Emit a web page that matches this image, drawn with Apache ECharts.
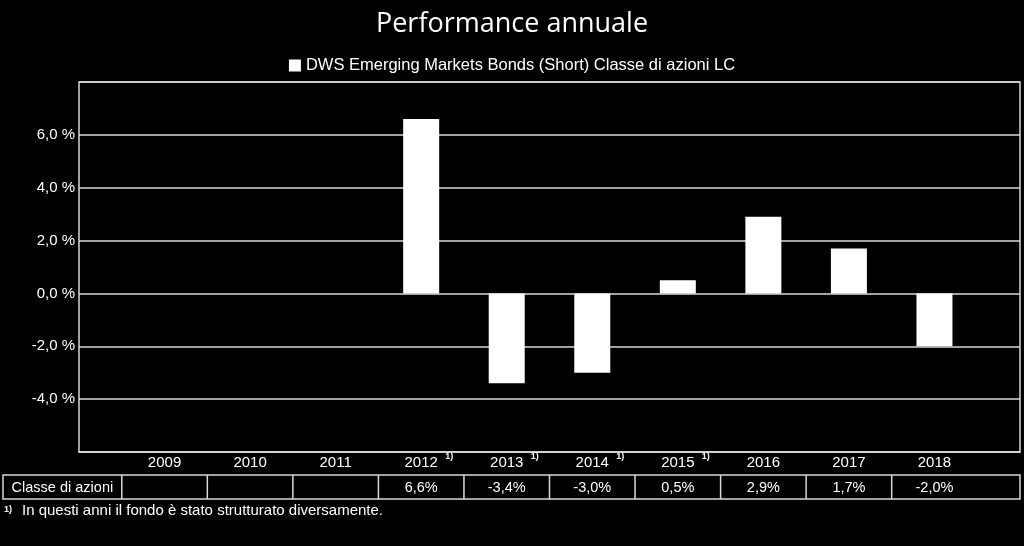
<!DOCTYPE html>
<html>
<head>
<meta charset="utf-8">
<script src="https://cdn.jsdelivr.net/npm/echarts@6/dist/echarts.min.js"></script>
<style>
html,body{margin:0;padding:0;background:#000;}
#chart{width:1024px;height:546px;}
</style>
</head>
<body>
<div id="chart"></div>
<script>
var years = ['2009','2010','2011','2012','2013','2014','2015','2016','2017','2018'];
var values = [null, null, null, 6.6, -3.4, -3.0, 0.5, 2.9, 1.7, -2.0];
var tableTexts = ['', '', '', '6,6%', '-3,4%', '-3,0%', '0,5%', '2,9%', '1,7%', '-2,0%'];
var footnoteYears = ['2012','2013','2014','2015'];
var seriesName = 'DWS Emerging Markets Bonds (Short) Classe di azioni LC';
var rowLabel = 'Classe di azioni';
var footnoteText = 'In questi anni il fondo è stato strutturato diversamente.';
var yTicks = {min: -6, max: 8, interval: 2, labelMin: -4, labelMax: 6};

var cats = [''].concat(years, ['']);
var vals = [null].concat(values, [null]);

var FONT = '"Liberation Sans", Arial, sans-serif';
var chart = echarts.init(document.getElementById('chart'), null, {renderer: 'canvas'});

var option = {
  backgroundColor: '#000',
  animation: false,
  title: {
    text: 'Performance annuale',
    left: 'center',
    top: 6,
    textStyle: {color: '#fff', fontSize: 27, fontWeight: 'normal', fontFamily: '"Open Sans", sans-serif'}
  },
  legend: {
    top: 52,
    left: 'center',
    itemWidth: 12,
    itemHeight: 12,
    itemGap: 5,
    icon: 'rect',
    textStyle: {color: '#fff', fontSize: 16.5, fontFamily: FONT},
    data: [seriesName]
  },
  grid: {
    left: 79, right: 4, top: 82, bottom: 94,
    show: true, borderColor: '#d8d8d8', borderWidth: 1.5, backgroundColor: 'transparent'
  },
  xAxis: {
    type: 'category',
    data: cats,
    boundaryGap: false,
    axisLine: {show: true, onZero: false, lineStyle: {color: '#d8d8d8', width: 1.5}},
    axisTick: {show: false},
    splitLine: {show: false},
    axisLabel: {color: '#fff', fontSize: 15, fontFamily: FONT, margin: 3, interval: 0}
  },
  yAxis: {
    type: 'value',
    min: yTicks.min, max: yTicks.max, interval: yTicks.interval,
    axisLine: {show: false},
    axisTick: {show: false},
    splitLine: {show: true, lineStyle: {color: '#d8d8d8', width: 1.5}},
    axisLabel: {
      color: '#fff', fontSize: 15, fontFamily: FONT, margin: 4,
      formatter: function (v) {
        if (v < yTicks.labelMin || v > yTicks.labelMax) return '';
        return v.toFixed(1).replace('.', ',') + ' %';
      }
    }
  },
  series: [{
    name: seriesName,
    type: 'bar',
    data: vals,
    barWidth: 36,
    itemStyle: {color: '#fff'}
  }]
};
chart.setOption(option);

function buildTable() {
  var g = [];
  var lineColor = '#d8d8d8';
  var top = 475, bottom = 499, mid = (top + bottom) / 2 + 1;
  var centers = years.map(function (y) { return chart.convertToPixel({xAxisIndex: 0}, y); });
  var half = (centers[1] - centers[0]) / 2;
  var left = 3;
  var right = chart.convertToPixel({xAxisIndex: 0}, cats.length - 1);
  g.push({type: 'rect', shape: {x: left, y: top, width: right - left, height: bottom - top},
    style: {fill: 'none', stroke: lineColor, lineWidth: 1.5}});
  var seps = [centers[0] - half];
  centers.forEach(function (c) { seps.push(c + half); });
  seps.slice(0, seps.length - 1).forEach(function (x) {
    g.push({type: 'line', shape: {x1: x, y1: top, x2: x, y2: bottom}, style: {stroke: lineColor, lineWidth: 1.5}});
  });
  g.push({type: 'text', x: (left + seps[0]) / 2, y: mid,
    style: {text: rowLabel, fill: '#fff', font: '14.5px ' + FONT, align: 'center', verticalAlign: 'middle'}});
  centers.forEach(function (c, i) {
    if (tableTexts[i]) {
      g.push({type: 'text', x: c, y: mid,
        style: {text: tableTexts[i], fill: '#fff', font: '14.5px ' + FONT, align: 'center', verticalAlign: 'middle'}});
    }
  });
  footnoteYears.forEach(function (y) {
    var c = chart.convertToPixel({xAxisIndex: 0}, y);
    g.push({type: 'text', x: c + 24, y: 457,
      style: {text: '1)', fill: '#fff', font: 'bold 9px ' + FONT, align: 'left', verticalAlign: 'middle'}});
  });
  g.push({type: 'text', x: 4, y: 510,
    style: {text: '1)', fill: '#fff', font: 'bold 9px ' + FONT, align: 'left', verticalAlign: 'middle'}});
  g.push({type: 'text', x: 22, y: 511,
    style: {text: footnoteText, fill: '#fff', font: '15px ' + FONT, align: 'left', verticalAlign: 'middle'}});
  chart.setOption({graphic: {elements: g}});
}
buildTable();
</script>
</body>
</html>
